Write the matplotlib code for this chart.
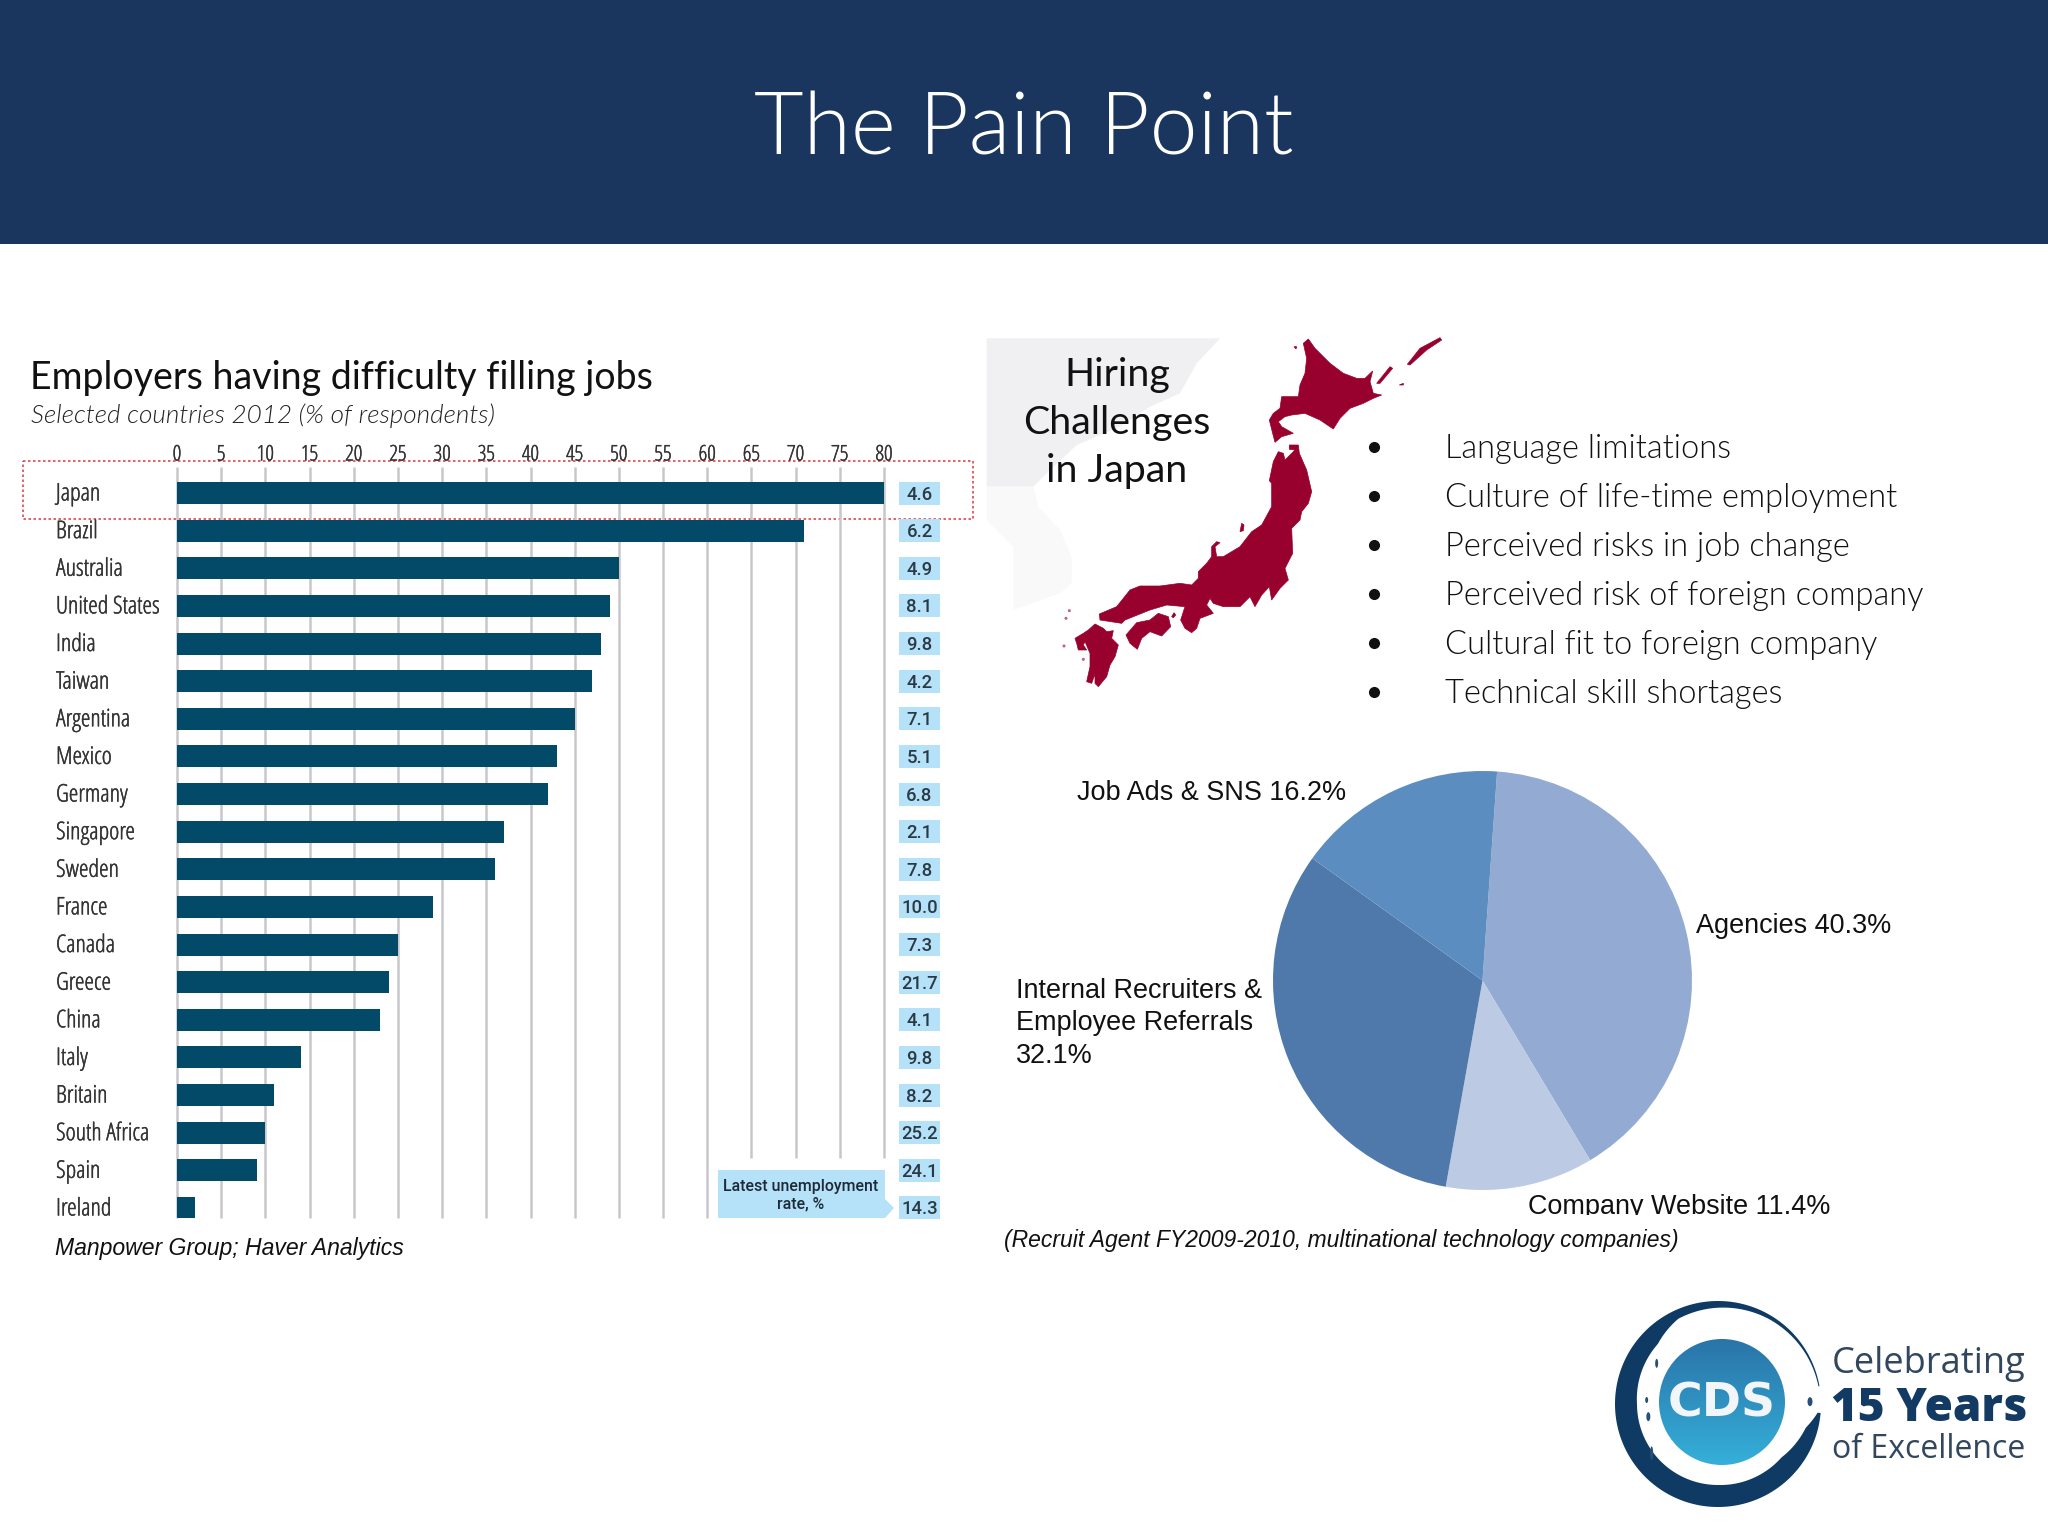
import numpy as np
import matplotlib
matplotlib.use("Agg")
import matplotlib.pyplot as plt
import matplotlib.patheffects as pe
from matplotlib.patches import Rectangle, Polygon, Circle, Ellipse

# ---------- data ----------
countries = ["Japan", "Brazil", "Australia", "United States", "India", "Taiwan", "Argentina",
             "Mexico", "Germany", "Singapore", "Sweden", "France", "Canada", "Greece", "China",
             "Italy", "Britain", "South Africa", "Spain", "Ireland"]
difficulty = [80, 71, 50, 49, 48, 47, 45, 43, 42, 37, 36, 29, 25, 24, 23, 14, 11, 10, 9, 2]
unemployment = ["4.6", "6.2", "4.9", "8.1", "9.8", "4.2", "7.1", "5.1", "6.8", "2.1", "7.8",
                "10.0", "7.3", "21.7", "4.1", "9.8", "8.2", "25.2", "24.1", "14.3"]
x_ticks = list(range(0, 85, 5))
pie_values = [40.3, 11.4, 32.1, 16.2]
pie_colors = ["#93abd3", "#bccbe3", "#4e79aa", "#5c8dc1"]
challenges = ["Language limitations", "Culture of life-time employment", "Perceived risks in job change",
              "Perceived risk of foreign company", "Cultural fit to foreign company", "Technical skill shortages"]

W, H = 2048, 1536
fig = plt.figure(figsize=(W/100, H/100), dpi=100, facecolor="white")
bg = fig.add_axes([0, 0, 1, 1])
bg.set_xlim(0, W); bg.set_ylim(H, 0); bg.axis("off")

light = "Lato"
cond = dict(family="Open Sans", fontstretch="condensed")
ar = "Liberation Sans"
def heavy(color, w=0.5):
    return [pe.withStroke(linewidth=w, foreground=color)]

# header
bg.add_patch(Rectangle((0, 0), W, 244, fc="#1a365f", ec="none"))
bg.text(1024, 130, "The Pain Point", color="white", fontsize=61.8, ha="center", va="center",
        family=light, fontweight=300)

# chart titles
bg.text(30, 378, "Employers having difficulty filling jobs", fontsize=27, ha="left", va="center",
        family=light, fontweight=400, color="#111111")
bg.text(31, 416, "Selected countries 2012 (% of respondents)", fontsize=18.8, ha="left", va="center",
        family=light, fontweight=300, style="italic", color="#222222")

# bar chart
x0, x80 = 177, 884
top, bot = 467, 1218
row0, pitch = 493, 37.63
ax = fig.add_axes([x0/W, 1-bot/H, (x80-x0)/W, (bot-top)/H])
ax.set_xlim(0, 80)
ax.set_ylim((bot-row0)/pitch, (top-row0)/pitch)
ax.patch.set_alpha(0)
for s in ax.spines.values():
    s.set_visible(False)
ax.set_xticks([]); ax.set_yticks([])
ymin_long = (bot-row0)/pitch
ymin_short = (1158-row0)/pitch
for t in x_ticks:
    ax.plot([t, t], [ymin_short if t >= 65 else ymin_long, (top-row0)/pitch],
            color="#c8c8cc", lw=1.8, zorder=1, clip_on=False, solid_capstyle="butt")
    ax.text(t, (455-row0)/pitch, str(t), ha="center", va="center", fontsize=15.5,
            color="#333333", clip_on=False, path_effects=heavy("#333333", 0.3), **cond)
ypos = np.arange(len(countries))
ax.barh(ypos, difficulty, height=22/pitch, color="#034a68", edgecolor="none", zorder=2)
for i, (c, u) in enumerate(zip(countries, unemployment)):
    ax.text((56-x0)/(x80-x0)*80, i+1.5/pitch, c, ha="left", va="center", fontsize=17.5,
            color="#333333", clip_on=False, path_effects=heavy("#333333", 0.3), **cond)
    bx = (899-x0)/(x80-x0)*80
    bw = 41/(x80-x0)*80
    ax.add_patch(Rectangle((bx, i-11.5/pitch), bw, 23/pitch, fc="#b5e2f8", ec="none", clip_on=False))
    ax.text(bx+bw/2, i+1.5/pitch, u, ha="center", va="center", fontsize=13.3, color="#2a3a44",
            clip_on=False, family="Roboto", fontweight=500)

# highlight box
bg.add_patch(Rectangle((23, 461), 950, 58, fc="none", ec="#e0464c", lw=1.2, ls=(0, (1.5, 1.5)), zorder=20))

# overlay
callout = fig.add_axes([0, 0, 1, 1]); callout.set_xlim(0, W); callout.set_ylim(H, 0); callout.axis("off")
callout.add_patch(Polygon([(718, 1170), (885, 1170), (885, 1199), (894, 1208), (885, 1218), (718, 1218)],
                          fc="#b5e2f8", ec="none"))
callout.text(801, 1186, "Latest unemployment", ha="center", va="center", fontsize=11.4,
             color="#1d2a36", family="Roboto", fontweight=500)
callout.text(801, 1204, "rate, %", ha="center", va="center", fontsize=11.4, color="#1d2a36",
             family="Roboto", fontweight=500)

ar_it = dict(family=ar, style="italic", color="#111111")
callout.text(55, 1249, "Manpower Group; Haver Analytics", fontsize=16.6, va="center", **ar_it)
callout.text(1004, 1240, "(Recruit Agent FY2009-2010, multinational technology companies)", fontsize=16.45, va="center", **ar_it)

# map backdrop
def z(pts, ox=980, oy=330):
    return [(ox+a/3, oy+b/3) for a, b in pts]
bg.add_patch(Polygon(z([(20,25),(720,25),(650,100),(600,190),(510,230),(420,290),(290,345),(200,430),(160,470),(20,470)]),
                     fc="#f0f0f3", ec="none"))
bg.add_patch(Polygon(z([(20,470),(160,470),(175,530),(240,600),(275,680),(275,760),(240,790),(100,840),(100,650),(20,570)]),
                     fc="#f9f9fa", ec="none"))
red = "#98002e"
A = (1250, 335); B = (1190, 440); C = (1060, 570)
hokkaido = z([(175,12),(195,40),(240,85),(280,115),(320,130),(345,130),(368,108),(360,140),(370,175),(395,180),
              (370,190),(340,205),(300,220),(270,250),(250,282),(210,255),(165,235),(125,240),(105,245),(85,260),
              (95,275),(130,295),(95,305),(75,322),(68,295),(58,255),(70,235),(90,220),(95,185),(145,185),(150,150),
              (165,115),(170,70),(160,25)], *A)
kuril1 = z([(472,88),(510,40),(570,8),(575,15),(530,45),(480,90)], *A)
kuril2 = z([(380,145),(420,95),(428,100),(390,145)], *A)
kuril3 = z([(448,150),(460,145),(460,150)], *A)
rishiri = z([(132,35),(140,35),(138,42)], *A)
honshu = (z([(298,15),(325,15),(328,40),(350,90),(365,155),(355,190),(335,215),(330,240),(305,265),(308,340),
             (285,385),(295,420),(270,445),(245,480),(238,440),(215,465),(195,500),(180,470),(150,500),(100,500),
             (70,490),(60,475),(50,495),(70,520)], *B)
          + z([(420,145),(410,175),(395,188),(375,175),(362,150),(375,110),(320,105),(270,120),(195,150),(185,160),
               (120,150),(118,132),(170,110),(210,60),(240,48),(300,48),(360,40),(395,45),(415,25)], *C)
          + z([(25,395),(50,370),(65,350),(65,320),(80,305),(90,308),(75,320),(80,350),(100,350),(150,320),(185,275),
               (215,255),(245,200),(245,130),(238,122),(250,65),(265,35),(280,40),(285,60),(300,45),(315,30),(298,28)], *B))
sado = z([(150,275),(155,250),(162,255),(160,272)], *B)
shikoku = z([(198,195),(230,158),(270,150),(295,130),(325,140),(332,170),(305,198),(270,185),(245,205),(232,238),(210,220)], *C)
awaji = z([(335,140),(342,128),(347,135),(340,143)], *C)
kyushu = z([(45,205),(70,190),(85,180),(105,162),(130,175),(140,185),(160,182),(155,205),(175,225),(165,260),(150,285),
            (140,320),(115,350),(105,340),(105,312),(95,340),(80,335),(90,290),(90,250),(75,215),(70,225),(80,240),(55,240),(50,220)], *C)
for s in [hokkaido, kuril1, kuril2, kuril3, rishiri, honshu, sado, shikoku, awaji, kyushu]:
    bg.add_patch(Polygon(s, fc=red, ec=red, lw=0.5))
for px, py in z([(28,122),(18,145),(12,228),(70,268)], *C):
    bg.add_patch(Circle((px, py), 1.5, fc="#c06080", ec="none"))

for i, line in enumerate(["Hiring", "Challenges", "in Japan"]):
    bg.text(1117, 375+48*i, line, fontsize=28.4, ha="center", va="center", family=light, fontweight=400, color="#111111")

# bullets
for i, t in enumerate(challenges):
    y = 448.5+49.1*i
    bg.plot([1374], [y-2], "o", ms=7, color="#111111")
    bg.text(1445, y, t, fontsize=23.5, ha="left", va="center", family=light, fontweight=300, color="#111111")

# pie
cx, cy, r = 1482.5, 980.5, 209.5
pie_ax = fig.add_axes([(cx-r)/W, 1-(cy+r)/H, 2*r/W, 2*r/H])
pie_ax.pie(pie_values, colors=pie_colors, startangle=86, counterclock=False, radius=1,
           wedgeprops=dict(edgecolor="none"))
pie_ax.set_xlim(-1, 1); pie_ax.set_ylim(-1, 1)

lab = dict(family=ar, fontsize=19.45, color="#111111", va="center")
callout.text(1077, 793, "Job Ads & SNS 16.2%", **lab)
callout.text(1696, 926, "Agencies 40.3%", **lab)
callout.text(1016, 991, "Internal Recruiters &", **lab)
callout.text(1016, 1023.5, "Employee Referrals", **lab)
callout.text(1016, 1056, "32.1%", **lab)
tx = callout.text(1528, 1207, "Company Website 11.4%", **lab)
tx.set_clip_path(Rectangle((1400, 1100), 600, 115, transform=callout.transData))
tx.set_clip_on(True)

# logo
lx, ly = 1722, 1402
grad = np.linspace(0, 1, 256)[:, None]
c1, c2 = np.array([0x2a, 0x74, 0xa8]), np.array([0x35, 0xb0, 0xda])
img = (c1 + (c2-c1)*grad[..., None]).astype(np.uint8)
logo_im = callout.imshow(img, extent=(lx-63, lx+63, ly+63, ly-63), aspect="auto", zorder=3)
logo_im.set_clip_path(Circle((lx, ly), 63, transform=callout.transData))
callout.set_xlim(0, W); callout.set_ylim(H, 0)
# brushed ring: angle measured clockwise on screen from +x
ang = np.radians(np.linspace(5, 350, 300))
thick = np.interp(np.degrees(ang), [5, 15, 40, 90, 180, 225, 245, 300, 330, 350], [3, 12, 20, 22, 22, 18, 9, 4, 2, 1])
rx, ry, ro = 1718, 1404, 103
outer = np.c_[rx+ro*np.cos(ang), ry+ro*np.sin(ang)]
inner = np.c_[rx+(ro-thick)*np.cos(ang), ry+(ro-thick)*np.sin(ang)]
callout.add_patch(Polygon(np.r_[outer, inner[::-1]], fc="#0e3a63", ec="none", zorder=2))
for zx, zy, w, h in [(230, 250, 3, 9), (200, 360, 3, 6), (205, 410, 4, 9), (690, 365, 5, 9), (215, 520, 3, 14)]:
    callout.add_patch(Ellipse((1580+zx/3, 1280+zy/3), w, h, fc="#2a4f75", ec="none", zorder=2))
callout.text(lx, ly+2, "CDS", family="DejaVu Sans", fontweight="bold", fontsize=34, color="#f2f6fa", ha="center",
             va="center", zorder=4)
callout.text(1832, 1364, "Celebrating", family="Open Sans", fontsize=26, color="#30475f", va="center")
callout.text(1831, 1409, "15 Years", family="Open Sans", fontsize=33, color="#123a63", va="center", fontweight=800)
callout.text(1832, 1450, "of Excellence", family="Open Sans", fontsize=23, color="#30475f", va="center")

fig.savefig("out.png", dpi=100, facecolor="white")
